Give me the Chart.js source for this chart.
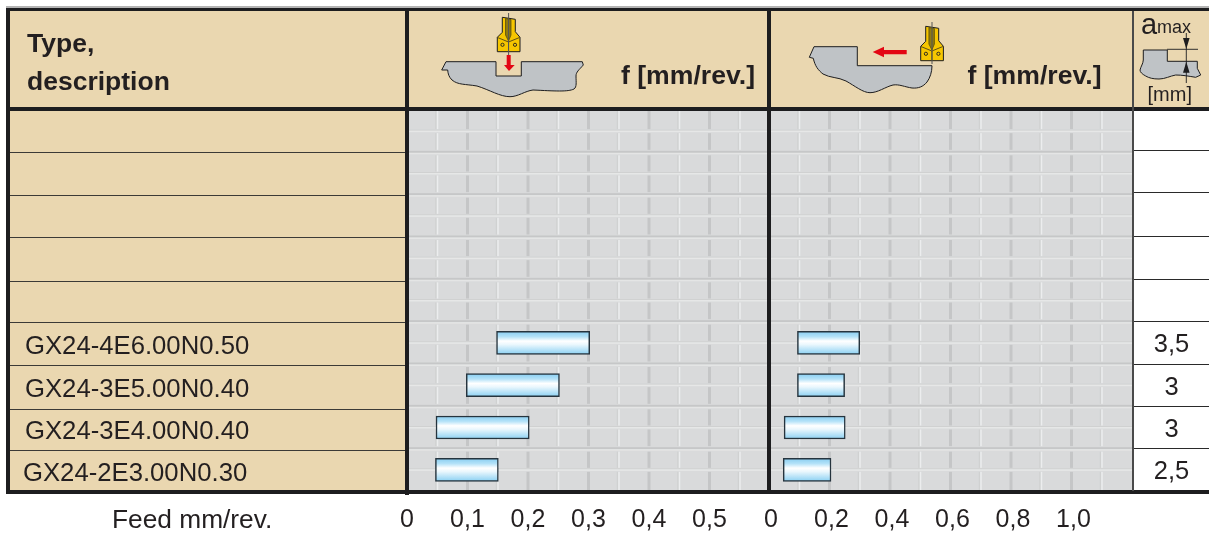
<!DOCTYPE html>
<html>
<head>
    <title>Feed chart</title>
    <script src="https://cdn.jsdelivr.net/npm/chart.js"></script>
    <style>
        html, body { margin: 0; padding: 0; background: #fff; overflow: hidden; }
        body { width: 1209px; height: 533px; position: relative; font-family: "Liberation Sans", Arial, sans-serif; color: #231f20; }
        .box { position: absolute; }
        .txt { position: absolute; white-space: nowrap; line-height: 30px; height: 30px; }
        canvas { position: absolute; top: 110px; }
        svg { position: absolute; left: 0; top: 0; }
    </style>
</head>
<body>
    <canvas id="feedA" width="403" height="423" style="left:387px"></canvas>
    <canvas id="feedB" width="403" height="423" style="left:749px"></canvas>
    <svg id="icons" width="1209" height="533">
        <defs>
            <g id="tool">
                <path d="M502.3 17.3 L515.3 19.3 L515.3 31.7 L520 37.3 L520 51.7 L497.3 51.7 L497.3 37.3 L502.3 32.3 Z" fill="#f6c600" stroke="#1d1d1f" stroke-width="1"/>
                <path d="M505.5 18.5 L511 19.5 L511 35 L508.5 41 L505.5 35 Z" fill="#8f7a10" stroke="#4a4210" stroke-width="0.7"/>
                <path d="M497.5 37.5 L508.5 42 L519.5 37.5 M508.5 42 L508.5 51.5" fill="none" stroke="#1d1d1f" stroke-width="0.7"/>
                <line x1="508.6" y1="13" x2="508.6" y2="55" stroke="#555" stroke-width="1"/>
                <circle cx="502.5" cy="44.8" r="1.6" fill="none" stroke="#1d1d1f" stroke-width="0.9"/>
                <circle cx="515" cy="44.8" r="1.6" fill="none" stroke="#1d1d1f" stroke-width="0.9"/>
            </g>
        </defs>
        <use href="#tool"/>
        <use href="#tool" transform="translate(423.4,9)"/>
    </svg>
    <script>
        // Left column and right column values, blank rows at the top
        const categories = ['', '', '', '', '', 'GX24-4E6.00N0.50', 'GX24-3E5.00N0.40', 'GX24-3E4.00N0.40', 'GX24-2E3.00N0.30'];
        const depthValues = ['', '', '', '', '', '3,5', '3', '3', '2,5'];

        // Feed ranges, mm/rev.
        const feedMinA = [null, null, null, null, null, 0.148, 0.098, 0.048, 0.047];
        const feedMaxA = [null, null, null, null, null, 0.302, 0.252, 0.202, 0.151];
        const feedMinB = [null, null, null, null, null, 0.094, 0.094, 0.05, 0.047];
        const feedMaxB = [null, null, null, null, null, 0.30, 0.25, 0.252, 0.205];

        // Tick labels, one per grid step
        const tickLabelsA = ['0', '', '0,1', '', '0,2', '', '0,3', '', '0,4', '', '0,5', '', ''];
        const tickLabelsB = ['0', '', '0,2', '', '0,4', '', '0,6', '', '0,8', '', '1,0', '', ''];

        const FONT = '"Liberation Sans", Arial, sans-serif';
        const INK = '#231f20';
        const LINE = '#1d1d1f';

        function box(x, y, w, h, color, z) {
            const d = document.createElement('div');
            d.className = 'box';
            d.style.cssText = `left:${x}px;top:${y}px;width:${w}px;height:${h}px;background:${color};z-index:${z || 0}`;
            document.body.appendChild(d);
        }

        function text(str, x, cy, size, bold, center) {
            const d = document.createElement('div');
            d.className = 'txt';
            d.textContent = str;
            d.style.top = (cy - 15) + 'px';
            d.style.fontSize = size + 'px';
            if (bold) d.style.fontWeight = 'bold';
            if (center) {
                d.style.left = (x - 50) + 'px';
                d.style.width = '100px';
                d.style.textAlign = 'center';
            } else {
                d.style.left = x + 'px';
            }
            d.style.zIndex = 5;
            document.body.appendChild(d);
        }

        // Beige cells
        box(10, 11, 395, 480, '#ead7b0');
        box(408, 11, 724, 97, '#ead7b0');
        box(1134, 11, 75, 97, '#ead7b0');

        // Table rules
        box(6, 6, 1203, 2, '#b4b4b4', 3);
        box(6, 8, 1203, 3, LINE, 3);
        box(6, 107, 1203, 3.5, LINE, 3);
        box(6, 490, 1203, 3.5, LINE, 3);
        box(6, 8, 4, 485, LINE, 3);
        box(405, 8, 3.5, 487, LINE, 3);
        box(767, 8, 4, 485, LINE, 3);
        box(1132, 11, 2, 480, '#4a4a4a', 3);
        [152, 195, 237, 281, 322, 365, 409, 450].forEach(y => box(10, y, 395, 1.3, '#3c3a36', 2));
        [150, 192, 236, 279, 321, 364, 406, 448].forEach(y => box(1134, y, 75, 1.3, '#2a2a2a', 2));

        // Header and row text
        text('Type,', 27, 43, 26.5, true);
        text('description', 27, 81, 26.5, true);
        text('f [mm/rev.]', 621, 75, 26.6, true);
        text('f [mm/rev.]', 967.5, 75, 26.6, true);
        text('a', 1141, 24, 29);
        text('max', 1157, 27, 18);
        text('[mm]', 1147.5, 94, 20);
        text('Feed mm/rev.', 112, 519, 26.3);

        const labelY = [0, 0, 0, 0, 0, 345, 388, 430, 472];
        const labelX = [0, 0, 0, 0, 0, 25, 25, 25, 23];
        categories.forEach((c, i) => { if (c) text(c, labelX[i], labelY[i], 25.7); });
        depthValues.forEach((v, i) => { if (v) text(v, 1171.5, labelY[i] - 2, 25.5, false, true); });

        // Little workpiece drawings and arrows in the header
        function shape(d, fill, stroke, sw) {
            const p = document.createElementNS('http://www.w3.org/2000/svg', 'path');
            p.setAttribute('d', d);
            p.setAttribute('fill', fill);
            if (stroke) {
                p.setAttribute('stroke', stroke);
                p.setAttribute('stroke-width', sw);
            }
            document.getElementById('icons').appendChild(p);
        }
        shape('M441.7 70 L446 61.7 L496 61.7 L496 76 L521.3 76 L521.3 61.7 L582.3 61.7 L583.3 65 C579 70 576 72 576 76 C576 82 577 87 574 89 C568 92 555 91 533 90 C525 91 518 96.7 510 96.7 C500 96.7 490 90 477 86 C465 84 458 85 452 80 C449 77 448 74 447.7 70 Z', '#bfc3c6', LINE, 1);
        shape('M506.7 55 L510.7 55 L510.7 65 L514.7 65 L509 71 L504 65 L506.7 65 Z', '#e30613');
        shape('M809.3 57.3 L814 46.7 L857.3 46.7 L857.3 65.7 L932 65.7 C932 72 930 78 927 82 C923 87 918 88.5 912 88 C905 87 899 84 893 85 C885 87 878 92.7 870 92.7 C863 92.7 855 86 846 81 C838 77 830 78 823 74 C818 70 815 66 813.3 58.3 Z', '#bfc3c6', LINE, 1);
        shape('M883.3 50 L906.7 50 L906.7 54.3 L884 54.3 L884 57.3 L872.7 52 L884 46.7 L884 50 Z', '#e30613');
        shape('M1143.3 50 L1167.3 50 L1167.3 61.3 L1197.3 61.3 L1197.3 68.3 L1200.7 75 L1195.7 77.3 C1188 76 1182 75 1175.7 75 C1170 76 1165 79 1159 79 C1153 79 1149 78 1145.7 76 C1142 74 1140 72 1140 70 C1141 66 1143 64 1143.3 60 Z', '#bfc3c6', LINE, 1);
        shape('M1167 49.3 L1198 49.3 M1186.3 33 L1186.3 83', 'none', LINE, 0.9);
        shape('M1183 38 L1189.6 38 L1186.3 49 Z M1183 72.7 L1189.6 72.7 L1186.3 61.7 Z', LINE);
        document.getElementById('icons').style.zIndex = 4;

        // Tile pattern behind the bars, laid out on the chart's own scales
        const TILE = '#d9dadb';
        const tileGrid = {
            id: 'tileGrid',
            beforeDatasetsDraw(chart) {
                const { ctx, chartArea: a, scales: { x, y } } = chart;
                const w = a.right - a.left;
                const h = a.bottom - a.top;
                ctx.save();
                ctx.fillStyle = TILE;
                ctx.fillRect(a.left, a.top, w, h);
                x.ticks.forEach((t, i) => {
                    if (i === 0 || i === x.ticks.length - 1) return;
                    const px = x.getPixelForValue(t.value);
                    if (i % 2 === 0) {
                        ctx.fillStyle = '#c5c6c7';
                        ctx.fillRect(px - 1.5, a.top, 3, h);
                    } else {
                        ctx.fillStyle = '#d0d1d1';
                        ctx.fillRect(px - 2, a.top, 1.5, h);
                        ctx.fillStyle = '#ecedee';
                        ctx.fillRect(px - 0.5, a.top, 1.5, h);
                    }
                });
                categories.forEach((c, i) => {
                    const mid = y.getPixelForValue(i);
                    ctx.fillStyle = TILE;
                    ctx.fillRect(a.left, mid - 2, w, 4);
                    ctx.fillStyle = '#d0d1d1';
                    ctx.fillRect(a.left, mid - 1.5, w, 1);
                    ctx.fillStyle = '#e6e7e7';
                    ctx.fillRect(a.left, mid - 0.5, w, 1.5);
                    if (i < categories.length - 1) {
                        const edge = (mid + y.getPixelForValue(i + 1)) / 2;
                        ctx.fillStyle = TILE;
                        ctx.fillRect(a.left, edge - 2.5, w, 5.5);
                        ctx.fillStyle = '#c6c7c8';
                        ctx.fillRect(a.left, edge - 1.5, w, 2);
                        ctx.fillStyle = '#e4e5e5';
                        ctx.fillRect(a.left, edge + 0.5, w, 1.5);
                    }
                });
                ctx.restore();
            }
        };

        // Light stripe across the middle of each bar
        function barFill(c) {
            const chart = c.chart;
            const mid = chart.scales.y ? chart.scales.y.getPixelForValue(c.dataIndex) : NaN;
            if (!Number.isFinite(mid)) return '#a8dcf6';
            const g = chart.ctx.createLinearGradient(0, mid - 11, 0, mid + 11);
            g.addColorStop(0, '#8bcff2');
            g.addColorStop(0.22, '#b4e2f8');
            g.addColorStop(0.42, '#ffffff');
            g.addColorStop(0.58, '#eaf7fd');
            g.addColorStop(1, '#8fd2f3');
            return g;
        }

        function makeChart(id, mins, maxs, maxValue, step, tickLabels, shift) {
            return new Chart(document.getElementById(id), {
                type: 'bar',
                data: {
                    labels: categories,
                    datasets: [{
                        data: mins.map((m, i) => m === null ? null : [m, maxs[i]]),
                        backgroundColor: barFill,
                        borderColor: '#26343e',
                        borderWidth: 1.5,
                        borderSkipped: false,
                        barThickness: 23
                    }]
                },
                options: {
                    indexAxis: 'y',
                    responsive: false,
                    animation: false,
                    layout: { padding: { left: 20, right: 20, top: 0, bottom: 0 } },
                    plugins: { legend: { display: false }, tooltip: { enabled: false } },
                    scales: {
                        x: {
                            min: 0,
                            max: maxValue,
                            grid: { display: false },
                            border: { display: false },
                            afterFit(scale) { scale.height = 42; },
                            ticks: {
                                stepSize: step,
                                autoSkip: false,
                                maxRotation: 0,
                                padding: 6,
                                labelOffset: shift,
                                color: INK,
                                font: { family: FONT, size: 25 },
                                callback: (v, i) => tickLabels[i]
                            }
                        },
                        y: { display: false, grid: { display: false } }
                    }
                },
                plugins: [tileGrid]
            });
        }

        makeChart('feedA', feedMinA, feedMaxA, 0.6, 0.05, tickLabelsA, 0);
        makeChart('feedB', feedMinB, feedMaxB, 1.2, 0.1, tickLabelsB, 2);
    </script>
</body>
</html>
